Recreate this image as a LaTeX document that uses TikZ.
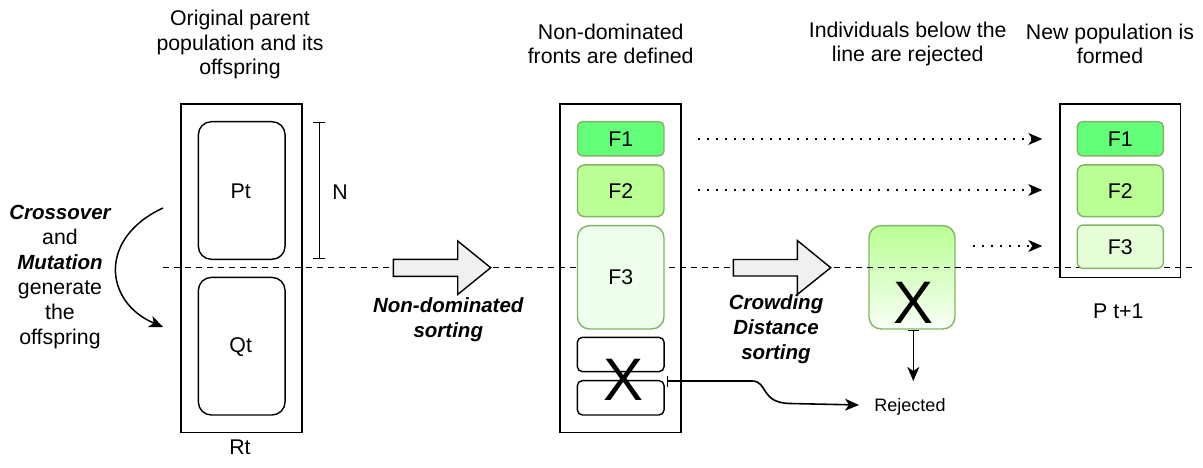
\documentclass[tikz,border=0pt]{standalone}
\usepackage{fontspec}
\setmainfont{Liberation Sans}
\usetikzlibrary{arrows.meta}

\definecolor{frontA}{RGB}{100,255,120}
\definecolor{frontB}{RGB}{185,255,148}
\definecolor{frontC}{RGB}{238,255,236}
\definecolor{frontCnew}{RGB}{230,255,217}
\definecolor{greenline}{RGB}{130,179,102}
\definecolor{arrowfill}{RGB}{240,240,240}

\begin{document}
\begin{tikzpicture}[x=1pt,y=-1pt,line width=1.4pt,
  every node/.style={inner sep=0pt,font=\fontsize{21.3}{24.6}\selectfont},
  container/.style={draw,line width=1.6pt,minimum width=121pt},
  subpop/.style={draw,rounded corners=13pt,minimum width=86.7pt,minimum height=137.6pt},
  front/.style={draw=greenline,minimum width=86.5pt},
  emptyfront/.style={draw,rounded corners=5pt,minimum width=86.7pt,minimum height=34.3pt},
  title/.style={align=center},
  stage/.style={align=center,font=\fontsize{20.5}{25}\bfseries\itshape\selectfont},
  bigx/.style={font=\fontsize{60}{60}\selectfont},
  tip/.style={-{Stealth[length=14pt,width=12pt,inset=4pt]}},
  dotline/.style={tip,dash pattern=on 1.4pt off 7.6pt},
  cutline/.style={dash pattern=on 6pt off 5pt},
  blockarrow/.style={draw,fill=arrowfill,line width=1.4pt,line join=miter},
  reject/.style={line width=1.6pt,{Bar[width=11pt]}-{Stealth[length=14pt,width=12pt,inset=4pt]}}
]
\useasboundingbox (0,0) rectangle (1203,468);

% front rejected by crowding distance (lies under the cut line)
\node[front,rounded corners=12pt,minimum height=103.3pt,top color=frontB,bottom color=white!92!frontB,minimum width=86pt] (crowd) at (912,277.3) {};
\node[bigx] (crowdx) at (913.3,302.5) {X};

% the cut line separating the N kept individuals
\coordinate (cutL) at (163,267.7);
\coordinate (cutR) at (1193,267.7);
\draw[cutline] (cutL) -- (cutR);

% titles
\node[title] (tOrig) at (240,44.5) {Original parent\\population and its\\offspring};
\node[title] (tFronts) at (610.7,44) {Non-dominated\\fronts are defined};
\node[title] (tReject) at (907.7,44) {Individuals below the\\line are rejected};
\node[title] (tNew) at (1110,44) {New population is\\formed};

% combined population R_t
\node[container,minimum height=328pt] (Rt) at (241.5,268.3) {};
\node[subpop] (Pt) at (241.7,190.5) {};
\node[subpop] (Qt) at (241.7,346.2) {};
\node (PtL) at (240.7,191.7) {Pt};
\node (QtL) at (240.7,346.7) {Qt};
\node (RtL) at (240,447.5) {Rt};

% population size bracket
\coordinate (nTop) at (319.3,121.7);
\coordinate (nBot) at (319.3,259.3);
\draw[{Bar[width=12pt]}-{Bar[width=12pt]}] (nTop) -- (nBot);
\node (NL) at (340,191.7) {N};

% variation operators
\node[align=center,font=\fontsize{21.3}{25}\selectfont] (ops) at (60,277.5)
  {{\fontsize{20.5}{25}\bfseries\itshape Crossover}\\and\\{\fontsize{20.5}{25}\bfseries\itshape Mutation}\\generate\\the\\offspring};
\coordinate (cvS) at (163,208);
\coordinate (cvE) at (163,327);
\draw[tip,line width=1.5pt] (cvS) .. controls (98,238) and (104,302) .. (cvE);

% non-dominated sorting step
\draw[blockarrow] (393.3,259.3) -- (457.7,259.3) -- (457.7,241) -- (490.7,267.7)
  -- (457.7,294.5) -- (457.7,276.3) -- (393.3,276.3) -- cycle;
\node[stage] (sortND) at (448.3,320) {Non-dominated\\sorting};

% sorted fronts
\node[container,minimum height=328pt] (Fbox) at (620.5,268.3) {};
\node[front,fill=frontA,rounded corners=5pt,minimum height=34.3pt] (F1m) at (620.7,138.8) {F1};
\node[front,fill=frontB,rounded corners=7pt,minimum height=51.7pt] (F2m) at (620.7,190.8) {F2};
\node[front,fill=frontC,rounded corners=12pt,minimum height=103.3pt] (F3m) at (620.7,277.3) {F3};
\node[emptyfront] (F4m) at (620.7,354.5) {};
\node[emptyfront] (F5m) at (620.7,397.8) {};
\node[bigx] (restx) at (623.3,380) {X};

% crowding distance sorting step
\draw[blockarrow] (733.3,259.5) -- (797.3,259.5) -- (797.3,240.5) -- (830.7,267.7)
  -- (797.3,294.5) -- (797.3,276) -- (733.3,276) -- cycle;
\node[stage] (sortCD) at (776,329) {Crowding\\Distance\\sorting};

% rejected individuals
\node[font=\fontsize{18}{22}\selectfont] (rej) at (910,406.7) {Rejected};
\coordinate (rejS) at (666.7,381);
\coordinate (rejIn) at (859,405);
\coordinate (rejTop) at (913.3,381);
\draw[reject] (rejS) -- (752,381) .. controls (768,381) and (760,403) .. (790,403.5) -- (rejIn);
\draw[reject] (crowd.south -| crowdx) -- (rejTop);

% new population
\node[container,minimum height=173pt,minimum width=120.7pt] (Pnew) at (1120.3,190.8) {};
\node[front,fill=frontA,rounded corners=5pt,minimum height=34.3pt,minimum width=86pt] (F1r) at (1120.3,138.8) {F1};
\node[front,fill=frontB,rounded corners=7pt,minimum height=51.7pt,minimum width=86pt] (F2r) at (1120.3,190.8) {F2};
\node[front,fill=frontCnew,rounded corners=6pt,minimum height=43.3pt,minimum width=86pt] (F3r) at (1120.3,246.7) {F3};
\node (PnewL) at (1118.3,311.7) {P t+1};

% fronts carried over
\coordinate (d1s) at (698.3,139);
\coordinate (d2s) at (698.3,190);
\coordinate (d3s) at (973.3,246);
\coordinate (d1e) at (1042.3,139);
\coordinate (d2e) at (1042.3,190);
\coordinate (d3e) at (1042.3,246);
\draw[dotline] (d1s) -- (d1e);
\draw[dotline] (d2s) -- (d2e);
\draw[dotline] (d3s) -- (d3e);
\end{tikzpicture}
\end{document}
